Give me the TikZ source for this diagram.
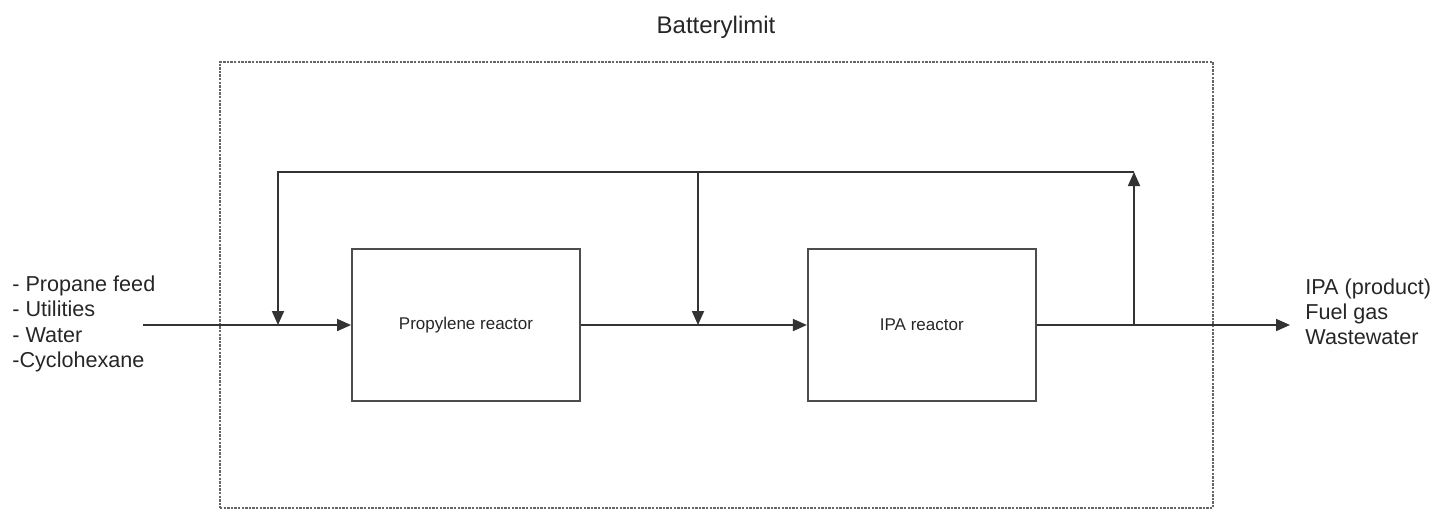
\documentclass[tikz,border=0pt]{standalone}
\usepackage{fontspec}
\setmainfont{Liberation Sans}
\usetikzlibrary{positioning,arrows.meta}
\tikzstyle{reactor} = [draw=black!70, line width=0.9pt, rectangle, minimum width=114pt, minimum height=76pt, inner sep=0pt, text=black!85, font=\fontsize{8.5}{10}\selectfont]
\tikzstyle{stream} = [draw=black!80, line width=0.9pt, -{Triangle[length=7pt,width=6pt]}]
\tikzstyle{limitbox} = [draw=black!60, line width=0.8pt, dash pattern=on 1.2pt off 0.6pt, rectangle, minimum width=496.5pt, minimum height=223pt]
\tikzstyle{streamlist} = [align=left, inner sep=0pt, text=black!85, font=\fontsize{10.8}{12.6}\selectfont]

\begin{document}
\begin{tikzpicture}[x=0.5pt,y=-0.5pt]
		\useasboundingbox (0,0) rectangle (1435,511);

		% battery limit
		\node[limitbox] (limit) at (716.5,285) {};
		\node[anchor=base, inner sep=0pt, text=black!85, font=\fontsize{12}{14}\selectfont] (limitlabel) at (716,33) {Batterylimit};

		% reactors
		\node[reactor] (propylene) at (466,325) {Propylene reactor};
		\node[reactor,right= 113pt of propylene] (ipa) {IPA reactor};

		% streams in and out
		\node[streamlist,anchor=west] (feeds) at (12,324) {- Propane feed\\- Utilities\\- Water\\-Cyclohexane};
		\node[streamlist,anchor=west] (products) at (1305,312) {IPA (product)\\Fuel gas\\Wastewater};
		\node[coordinate] (feedin) at (143,325) {};
		\node[coordinate] (prodout) at (1290,325) {};

		% junction points
		\node[coordinate] (mixin) at (278,325) {};
		\node[coordinate] (mixmid) at (698,325) {};
		\node[coordinate] (splitout) at (1134,325) {};
		\node[coordinate,above= 76.5pt of mixin] (recleft) {};
		\node[coordinate,above= 76.5pt of mixmid] (recmid) {};
		\node[coordinate,above= 76.5pt of splitout] (recright) {};

		% main line
		\draw [stream] (feedin) -- (propylene.west);
		\draw [stream] (propylene.east) -- (ipa.west);
		\draw [stream] (ipa.east) -- (prodout);

		% recycle
		\draw [stream] (splitout) -- (recright);
		\draw [stream] (recright) -- (recleft) -- (mixin);
		\draw [stream] (recmid) -- (mixmid);
	\end{tikzpicture}
\end{document}
